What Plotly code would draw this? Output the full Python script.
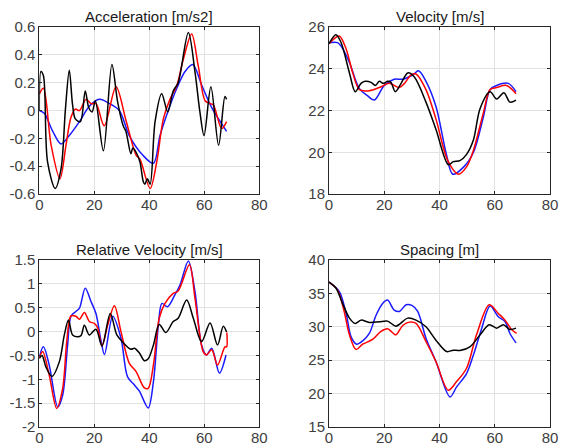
import plotly.graph_objects as go

# ---------------- data ----------------
# Acceleration [m/s2]
acc_black_t = [0, 0.6, 1.5, 3, 5.8, 7.9, 9.5, 10.9, 12.1, 13.1, 14.9, 16.7, 18, 19.2, 20.4, 23.3, 26.4,
               28.5, 30.5, 31.5, 33.3, 34, 35.2, 36.6, 37.8, 38.4, 39.3, 40.3, 42.1, 44.5, 46.7, 48.7,
               50.5, 54.2, 56.6, 58.4, 59.9, 62.4, 65.2, 67.5, 68.1]
acc_black_v = [0.0, 0.28, 0.25, -0.37, -0.56, -0.42, 0.01, 0.29, 0.04, -0.06, -0.08, 0.14, 0.02, -0.01,
               0.07, -0.29, 0.33, 0.06, -0.11, -0.15, -0.31, -0.27, -0.3, -0.37, -0.51, -0.53, -0.49,
               -0.53, -0.08, 0.12, -0.01, 0.14, 0.2, 0.56, 0.28, -0.01, -0.18, 0.17, -0.25, 0.1, 0.08]
acc_red_t = [0, 1.5, 4.3, 7.5, 9.7, 11.5, 13.1, 14.6, 17, 18.8, 20.6, 23.6, 27.9, 31.5, 35.2, 36.6,
             40.3, 42.7, 45.1, 47.5, 50, 52.4, 55.4, 57.8, 60.3, 62.1, 63.3, 66.3, 68.1]
acc_red_v = [0.12, 0.16, -0.25, -0.49, -0.25, -0.05, 0.01, 0.0, 0.08, 0.05, 0.05, -0.11, 0.17, -0.07,
             -0.32, -0.35, -0.56, -0.37, -0.06, 0.08, 0.18, 0.37, 0.55, 0.32, 0.07, 0.05, 0.04, -0.13, -0.08]
acc_blue_t = [0, 1.8, 4.9, 7.9, 10.9, 14.6, 18.2, 21.8, 25.5, 29.1, 32.7, 37.6, 41.5, 43.9, 46.9, 50,
              53, 55.8, 59.1, 62.7, 68.1]
acc_blue_v = [0.0, -0.02, -0.15, -0.24, -0.18, -0.08, 0.03, 0.08, 0.05, 0.0, -0.18, -0.32, -0.38, -0.18,
              0.0, 0.16, 0.28, 0.33, 0.18, 0.02, -0.15]

# Velocity [m/s]
vel_black_t = [0, 2.5, 4.3, 7.4, 9.5, 11.6, 13.1, 15.2, 16.8, 18.2, 19.7, 21.2, 22.4, 24, 26.1, 28.5,
               30.9, 35.1, 38.7, 43.2, 45, 47.4, 49.8, 52.3, 54.7, 58.3, 60.7, 63.3, 65.5, 67.7]
vel_black_v = [25.2, 25.63, 25.28, 23.8, 22.9, 23.3, 23.4, 23.35, 23.2, 23.4, 23.3, 23.4, 23.35, 22.9,
               23.3, 23.8, 23.6, 22.4, 21.1, 19.4, 19.55, 19.6, 19.9, 20.6, 22.1, 22.9, 22.55, 22.85,
               22.4, 22.5]
vel_red_t = [0, 3.7, 6.2, 8.6, 11, 14.6, 18.2, 21.8, 25.5, 27.3, 29.7, 31.5, 35.1, 38.7, 43, 46.8,
             49.8, 52.3, 55.9, 58.3, 60.7, 64.3, 67.7]
vel_red_v = [25.2, 25.57, 24.95, 23.8, 23.0, 22.95, 23.1, 23.3, 23.1, 23.3, 23.7, 23.75, 23.0, 21.6,
             19.6, 18.95, 19.3, 20.1, 21.9, 23.0, 23.1, 23.2, 22.8]
vel_blue_t = [0, 3.1, 4.3, 7.4, 11, 14, 16.4, 20, 23.6, 26.7, 30.3, 32.4, 35.1, 38.7, 42.5, 44.8,
              48.8, 52.3, 55.9, 58.3, 60.7, 64.9, 67.7]
vel_blue_v = [25.25, 25.25, 25.1, 24.3, 23.05, 22.7, 22.5, 23.2, 23.5, 23.5, 23.7, 23.9, 23.4, 22.2,
              19.9, 18.95, 19.3, 20.0, 21.7, 23.0, 23.2, 23.3, 22.9]

# Relative Velocity [m/s]
rv_black_t = [0, 1, 2.4, 4.6, 7.3, 9.1, 10.6, 12.1, 14, 15.2, 16.4, 18.2, 20.6, 22.8, 25.8, 28.2,
              30.3, 33.3, 34.6, 36.4, 38.2, 39.6, 41.5, 43.6, 46, 48.7, 50.5, 53.6, 56, 59, 62.1,
              64.8, 66.9, 68.1]
rv_black_v = [-0.56, -0.5, -0.74, -0.94, -0.63, -0.07, 0.24, -0.07, -0.11, -0.08, 0.13, -0.07, 0.05,
              -0.3, 0.38, -0.07, -0.22, -0.37, -0.35, -0.45, -0.61, -0.57, -0.28, 0.15, -0.02, 0.21,
              0.28, 0.66, 0.28, -0.21, 0.18, -0.28, 0.11, -0.01]
rv_red_t = [0, 1.2, 3.6, 6.3, 8.5, 10, 11.5, 13.3, 14.6, 16.4, 18.2, 20, 21.2, 22.8, 24.9, 27.3,
            29.7, 32.7, 35.2, 38.2, 39.6, 41.5, 43.6, 45.7, 48.7, 50.5, 54.6, 56.6, 59.6, 60.8,
            62.7, 64.8, 67.5, 68.1, 68.2]
rv_red_v = [-0.56, -0.42, -0.91, -1.61, -1.19, -0.2, 0.33, 0.32, 0.26, 0.4, 0.21, 0.17, 0.08, -0.3,
            0.14, 0.54, 0.0, -0.66, -0.84, -1.18, -1.19, -0.7, 0.28, 0.59, 0.8, 0.85, 1.4, 0.7,
            -0.42, -0.49, -0.38, -0.7, -0.32, -0.32, -0.02]
rv_blue_t = [0, 1.5, 3.6, 6.7, 8.5, 10.3, 11.5, 13.3, 14.6, 16.7, 18.8, 20.6, 22.4, 23.7, 26.7, 29.7,
             32.1, 34.6, 36.4, 39.6, 41.5, 43.3, 44.6, 46.6, 49.3, 51.2, 54.2, 56.6, 59, 60.8, 62.7,
             65.5, 67.9]
rv_blue_v = [-0.53, -0.32, -0.7, -1.58, -1.33, -0.28, 0.32, 0.42, 0.49, 0.91, 0.63, 0.38, -0.18, -0.48,
             0.32, -0.14, -0.95, -1.12, -1.25, -1.6, -1.05, 0.14, 0.59, 0.52, 0.77, 0.98, 1.48, 0.84,
             -0.28, -0.49, -0.35, -0.87, -0.49]

# Spacing [m]
sp_black_t = [0, 2.5, 4.9, 7.4, 9.5, 11.6, 14.6, 18.2, 21.2, 24.2, 28.5, 31.5, 35.1, 38.7, 42.6, 45,
              47.4, 51, 54.7, 58, 60.7, 63.1, 65.5, 67.7]
sp_black_v = [36.7, 35.8, 33.5, 31.3, 30.5, 31.0, 30.65, 30.75, 30.85, 30.1, 31.3, 31.0, 30.0, 28.0,
              26.3, 26.5, 26.45, 27.0, 28.8, 30.3, 29.8, 30.3, 29.6, 29.8]
sp_red_t = [0, 3.1, 5.5, 7.4, 9.8, 12.2, 15.8, 18.8, 21.2, 22.8, 24.2, 26.7, 29.1, 31.5, 35.1, 38.7,
            43.2, 46.2, 49.8, 53.4, 58, 61.3, 63.7, 66.1, 67.9]
sp_red_v = [36.7, 35.5, 32.3, 28.8, 26.6, 27.4, 28.1, 29.3, 29.7, 29.2, 28.8, 30.2, 30.7, 30.5, 27.8,
            24.8, 20.5, 21.8, 23.8, 28.8, 33.3, 32.0, 31.0, 29.6, 29.0]
sp_blue_t = [0, 3.7, 6.2, 8, 10, 12.2, 14.6, 17, 19.4, 21.2, 23.6, 25.5, 27.9, 30, 32.1, 35.1, 38.7,
             43.8, 46.2, 49.8, 52.3, 55.3, 58.3, 61.3, 63.7, 65.5, 67.7]
sp_blue_v = [36.7, 35.3, 32.0, 28.5, 27.4, 27.9, 29.0, 31.7, 33.5, 34.0, 32.5, 32.3, 33.3, 33.2, 32.3,
             28.3, 24.8, 19.5, 21.0, 23.0, 25.8, 29.8, 33.1, 31.5, 30.8, 29.0, 27.6]

titles = ["Acceleration [m/s2]", "Velocity [m/s]", "Relative Velocity [m/s]", "Spacing [m]"]
x_ticks = [0, 20, 40, 60, 80]
x_ticktext = ["0", "20", "40", "60", "80"]
y1_ticks = [-0.6, -0.4, -0.2, 0, 0.2, 0.4, 0.6]
y1_ticktext = ["-0.6", "-0.4", "-0.2", "0", "0.2", "0.4", "0.6"]
y2_ticks = [18, 20, 22, 24, 26]
y2_ticktext = ["18", "20", "22", "24", "26"]
y3_ticks = [-2, -1.5, -1, -0.5, 0, 0.5, 1, 1.5]
y3_ticktext = ["-2", "-1.5", "-1", "-0.5", "0", "0.5", "1", "1.5"]
y4_ticks = [15, 20, 25, 30, 35, 40]
y4_ticktext = ["15", "20", "25", "30", "35", "40"]

# ---------------- figure ----------------
OFF = 8  # page body margin
W, H = 568 - OFF, 445 - OFF
fig = go.Figure()

panels = [
    (1, [(acc_blue_t, acc_blue_v, "#1a1aff"), (acc_red_t, acc_red_v, "#ff0000"), (acc_black_t, acc_black_v, "#000000")]),
    (2, [(vel_blue_t, vel_blue_v, "#1a1aff"), (vel_red_t, vel_red_v, "#ff0000"), (vel_black_t, vel_black_v, "#000000")]),
    (3, [(rv_blue_t, rv_blue_v, "#1a1aff"), (rv_red_t, rv_red_v, "#ff0000"), (rv_black_t, rv_black_v, "#000000")]),
    (4, [(sp_blue_t, sp_blue_v, "#1a1aff"), (sp_red_t, sp_red_v, "#ff0000"), (sp_black_t, sp_black_v, "#000000")]),
]
for idx, series in panels:
    for t, v, c in series:
        fig.add_trace(go.Scatter(
            x=t, y=v, mode="lines",
            line=dict(color=c, width=1.5, shape="spline", smoothing=0.9),
            xaxis="x" if idx == 1 else f"x{idx}",
            yaxis="y" if idx == 1 else f"y{idx}",
            showlegend=False, hoverinfo="skip"))


def xd(a, b):
    return [(a - OFF) / W, (b - OFF) / W]


def yd(top, bottom):
    return [(H - (bottom - OFF)) / H, (H - (top - OFF)) / H]


xdom_l = xd(39.3, 259.3)
xdom_r = xd(329.0, 550.0)
ydom_t = yd(27, 194)
ydom_b = yd(260, 427)

FONT = "Liberation Sans, Arial, sans-serif"
axis_common = dict(
    showline=True, linecolor="#262626", linewidth=1, mirror="ticks",
    ticks="inside", ticklen=3, tickcolor="#262626",
    showgrid=True, gridcolor="#e2e2e2", gridwidth=1,
    zeroline=False, tickfont=dict(family=FONT, size=15, color="#404040"),
    fixedrange=True, automargin=False,
)
yinfo = [
    ([-0.6, 0.6], y1_ticks, y1_ticktext),
    ([18, 26], y2_ticks, y2_ticktext),
    ([-2, 1.5], y3_ticks, y3_ticktext),
    ([15, 40], y4_ticks, y4_ticktext),
]
doms = [(xdom_l, ydom_t), (xdom_r, ydom_t), (xdom_l, ydom_b), (xdom_r, ydom_b)]
layout = {}
for i in range(4):
    n = "" if i == 0 else str(i + 1)
    xdm, ydm = doms[i]
    yr, yt, ytt = yinfo[i]
    layout["xaxis" + n] = dict(axis_common, domain=xdm, range=[0, 80], tickvals=x_ticks,
                               ticktext=x_ticktext, anchor="y" + n, ticklabelstandoff=-3)
    layout["yaxis" + n] = dict(axis_common, domain=ydm, range=yr, tickvals=yt,
                               ticktext=ytt, anchor="x" + n)
fig.update_layout(**layout)

annotations = []
for i in range(4):
    xdm, ydm = doms[i]
    annotations.append(dict(
        text=titles[i], x=(xdm[0] + xdm[1]) / 2, y=ydm[1], xref="paper", yref="paper",
        xanchor="center", yanchor="bottom", yshift=0, showarrow=False,
        font=dict(family=FONT, size=15, color="#1a1a1a")))

fig.update_layout(
    width=W, height=H, margin=dict(l=0, r=0, t=0, b=0),
    paper_bgcolor="white", plot_bgcolor="white", annotations=annotations,
)

fig.write_html("out.html", include_plotlyjs=True, config={"displayModeBar": False})
